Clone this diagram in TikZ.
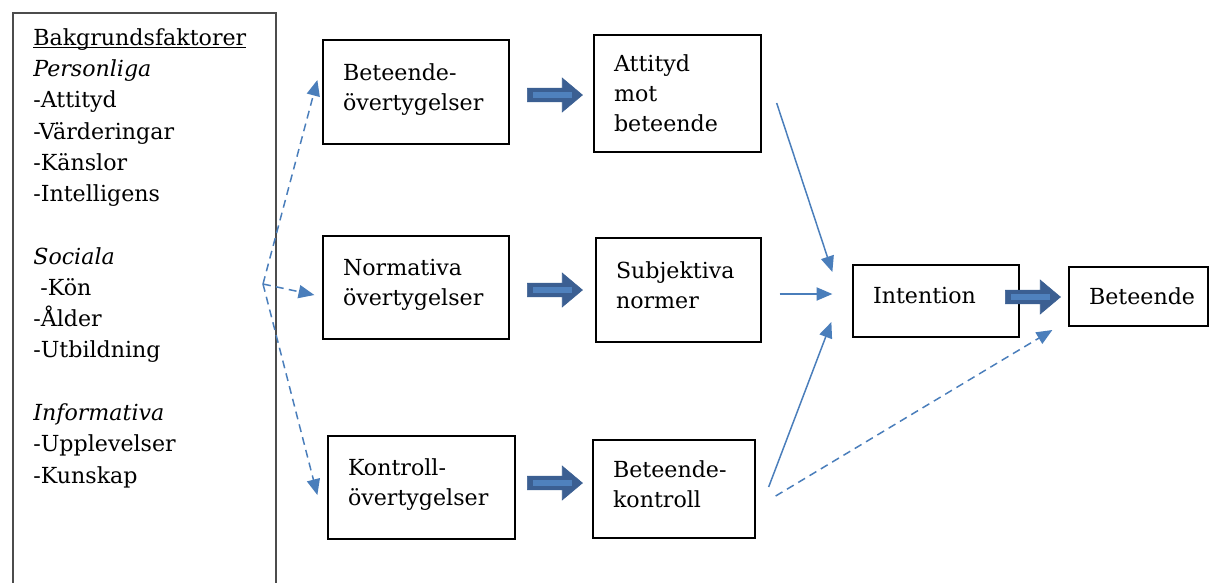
\documentclass[tikz,border=0pt]{standalone}
\usepackage{fontspec}
\setmainfont{DejaVu Serif}
\usetikzlibrary{calc,shapes.arrows,arrows.meta}
\definecolor{lineblue}{RGB}{74,126,187}
\definecolor{arrowdark}{RGB}{59,95,146}
\definecolor{arrowlight}{RGB}{79,129,189}
\tikzstyle{box}=[draw=black,line width=0.75pt,rectangle,align=left,inner xsep=0.4cm,inner ysep=0pt,font=\fontsize{12.6}{17.1}\selectfont]
\tikzstyle{lift}=[execute at end node={\rule[-6pt]{0pt}{0pt}}]
\tikzstyle{bgbox}=[draw=black!70,line width=0.9pt,rectangle,inner sep=0pt,anchor=north west]
\tikzstyle{bgtext}=[align=left,inner sep=0pt,anchor=north west,font=\fontsize{12.6}{17.8}\selectfont]
\tikzstyle{thin}=[draw=lineblue,line width=0.85pt,-{Triangle[length=9pt,width=7.5pt]}]
\tikzstyle{dashthin}=[thin,dash pattern=on 4.5pt off 3pt]
\tikzstyle{fatarrow}=[single arrow,anchor=tail,fill=arrowdark,draw=arrowdark,line width=0.4pt,inner xsep=0pt,inner ysep=0.13cm,minimum height=1.1cm,minimum width=0.66cm,single arrow head extend=0.2cm,single arrow tip angle=80,single arrow head indent=0pt,path picture={\draw[arrowlight,line width=3pt] ([xshift=0.12cm]path picture bounding box.west) -- ([xshift=-0.2cm]path picture bounding box.east);}]

\begin{document}
\begin{tikzpicture}[x=0.02cm,y=-0.02cm]
		\clip (0,0) rectangle (1216,582);
		% bakgrundsfaktorer
		\node[bgbox,minimum width=5.26cm,minimum height=11.8cm] (bg) at (12,12) {};
		\node[bgtext] (bgt) at ([shift={(21,16)}]bg.north west) {\underline{\smash{Bakgrundsfaktorer}}\vphantom{Bk}\\
			\textit{Personliga}\\-Attityd\\-Värderingar\\-Känslor\\-Intelligens\\[17.8pt]
			\textit{Sociala}\\\ -Kön\\-Ålder\\-Utbildning\\[17.8pt]
			\textit{Informativa}\\-Upplevelser\\-Kunskap};
		% boxes
		\node[box,lift,text width=2.92cm,minimum height=2.08cm] (bel) at (416,92) {Beteende-\\övertygelser};
		\node[box,text width=2.54cm,minimum height=2.34cm] (att) at (677.5,93.5) {Attityd\\mot\\beteende};
		\node[box,lift,text width=2.92cm,minimum height=2.06cm] (norm) at (416,287.5) {Normativa\\övertygelser};
		\node[box,lift,text width=2.50cm,minimum height=2.08cm] (subj) at (678.5,290) {Subjektiva\\normer};
		\node[box,lift,text width=2.94cm,minimum height=2.06cm] (kbel) at (421.5,487.5) {Kontroll-\\övertygelser};
		\node[box,lift,text width=2.44cm,minimum height=1.96cm] (kontr) at (674,489) {Beteende-\\kontroll};
		\node[box,lift,text width=2.52cm,minimum height=1.44cm] (intent) at (936,301) {Intention};
		\node[box,text width=1.98cm,minimum height=1.18cm] (beh) at (1138.5,296.5) {Beteende};
		% block arrows
		\node[fatarrow] (fa1) at (527,95) {};
		\node[fatarrow] (fa2) at (527,290) {};
		\node[fatarrow] (fa3) at (527,483) {};
		\node[fatarrow] (fa4) at (1005,297) {};
		% free ends
		\coordinate (fork) at (263,284);
		\coordinate (f1) at ([shift={(-5,-12)}]bel.west);
		\coordinate (f2) at ([shift={(-8,7.5)}]norm.west);
		\coordinate (f3) at ([shift={(-10,7.5)}]kbel.west);
		\coordinate (a1s) at ([shift={(15,9.5)}]att.east);
		\coordinate (a1e) at ([shift={(-20,-29)}]intent.west);
		\coordinate (a2s) at ([shift={(18,4)}]subj.east);
		\coordinate (a2e) at ([shift={(-20,-7)}]intent.west);
		\coordinate (a3s) at ([shift={(13,-2)}]kontr.east);
		\coordinate (a3e) at ([shift={(-21,21)}]intent.west);
		\coordinate (a4s) at ([shift={(20,7)}]kontr.east);
		\coordinate (a4e) at ([shift={(-16,33.5)}]beh.west);
		% connectors
		\draw[dashthin] (fork) -- (f1);
		\draw[dashthin] (fork) -- (f2);
		\draw[dashthin] (fork) -- (f3);
		\draw[thin] (a1s) -- (a1e);
		\draw[thin] (a2s) -- (a2e);
		\draw[thin] (a3s) -- (a3e);
		\draw[dashthin] (a4s) -- (a4e);
	\end{tikzpicture}
\end{document}
